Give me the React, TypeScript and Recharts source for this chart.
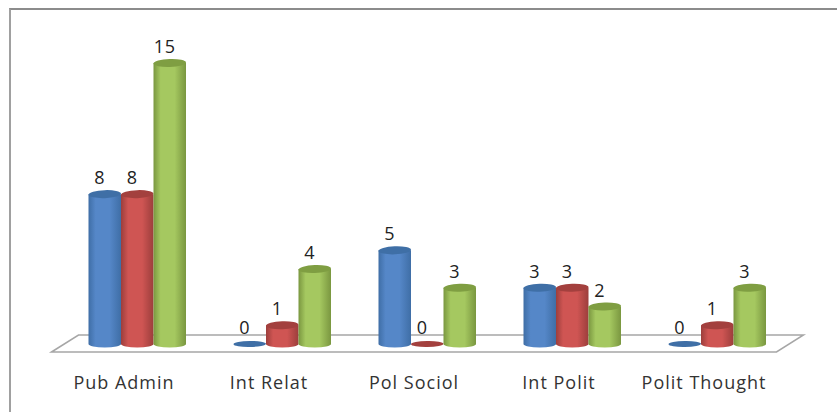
import { Bar, BarChart, LabelList, ReferenceArea, XAxis, YAxis } from 'recharts'

const categories = ['Pub Admin', 'Int Relat', 'Pol Sociol', 'Int Polit', 'Polit Thought']
const blueValues = [8, 0, 5, 3, 0]
const redValues = [8, 1, 0, 3, 1]
const greenValues = [15, 4, 3, 2, 3]

const data = categories.map((name, i) => ({
  name,
  blue: blueValues[i],
  red: redValues[i],
  green: greenValues[i],
}))

const COLORS = {
  blue: { edge: '#3f6ea6', mid: '#5587c8', top: '#3f6fa6' },
  red: { edge: '#9c3e3c', mid: '#cf5553', top: '#a3403e' },
  green: { edge: '#7a9740', mid: '#a5c860', top: '#7f9e42' },
}

type SeriesKey = keyof typeof COLORS

function Cylinder(props: any, key: SeriesKey) {
  const { x, y, width, height } = props
  const rx = width / 2
  const cx = x + rx
  const bottom = y + height
  const c = COLORS[key]
  if (height < 1) {
    return <ellipse cx={cx} cy={bottom} rx={rx} ry={3} fill={c.top} transform={`rotate(-1 ${cx} ${bottom})`} />
  }
  return (
    <g>
      <path
        d={`M${x},${y} L${x},${bottom} A${rx},3.5 0 0 0 ${x + width},${bottom} L${x + width},${y} Z`}
        fill={`url(#cyl-${key})`}
      />
      <ellipse cx={cx} cy={y} rx={rx} ry={4} fill={c.top} transform={`rotate(-2 ${cx} ${y})`} />
    </g>
  )
}

function Floor(props: any) {
  const { x, y, width, height } = props
  // y sits on the zero line, floor is skewed back from there
  const base = y + height
  const pts = [
    [x - 13, base + 8],
    [x + 14, base - 9],
    [x + width + 14, base - 9],
    [x + width - 13, base + 8],
  ]
  return <polygon points={pts.map(p => p.join(',')).join(' ')} fill="#fff" stroke="#a6a6a6" strokeWidth={1.5} />
}

function ValueLabel(props: any) {
  const { x, y, width, value } = props
  return (
    <text
      x={x + width / 2 - 5}
      y={y - 17}
      textAnchor="middle"
      dominantBaseline="central"
      fontFamily="Open Sans"
      fontSize={18}
      letterSpacing={0.6}
      fill="#222"
    >
      {value}
    </text>
  )
}

const seriesKeys: SeriesKey[] = ['blue', 'red', 'green']

export default function App() {
  return (
    <div style={{ position: 'absolute', left: 0, top: 0, width: 837, height: 412, background: '#fff', overflow: 'hidden' }}>
      <div
        style={{
          position: 'absolute',
          left: 9,
          top: 8,
          right: 0,
          bottom: 0,
          borderTop: '2px solid #8c8c8c',
          borderLeft: '2px solid #a0a0a0',
        }}
      />
      <div style={{ position: 'absolute', left: 0, top: 0 }}>
        <BarChart
          width={837}
          height={412}
          data={data}
          margin={{ top: 63, right: 47.5, bottom: 0, left: 64.5 }}
          barCategoryGap={24}
          barGap={0}
        >
          <defs>
            {seriesKeys.map(k => (
              <linearGradient key={k} id={`cyl-${k}`} x1="0" y1="0" x2="1" y2="0">
                <stop offset="0%" stopColor={COLORS[k].edge} />
                <stop offset="22%" stopColor={COLORS[k].mid} />
                <stop offset="65%" stopColor={COLORS[k].mid} />
                <stop offset="100%" stopColor={COLORS[k].edge} />
              </linearGradient>
            ))}
          </defs>
          <XAxis
            dataKey="name"
            height={68}
            axisLine={false}
            tickLine={false}
            tickSize={0}
            tickMargin={32}
            interval={0}
            tick={{ fontFamily: 'Open Sans', fontSize: 18, letterSpacing: 1, fill: '#333', dx: -13 }}
          />
          <YAxis hide domain={[0, 15]} />
          <ReferenceArea y1={0} y2={0} shape={Floor} ifOverflow="visible" />
          {seriesKeys.map(k => (
            <Bar
              key={k}
              dataKey={k}
              barSize={32.5}
              isAnimationActive={false}
              shape={(p: any) => Cylinder(p, k)}
            >
              <LabelList dataKey={k} content={ValueLabel} />
            </Bar>
          ))}
        </BarChart>
      </div>
    </div>
  )
}
